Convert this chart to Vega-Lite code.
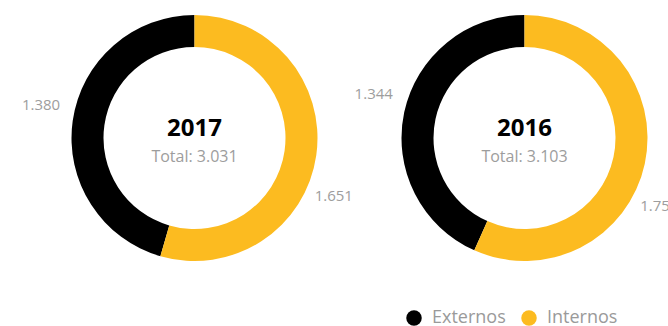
{
  "$schema": "https://vega.github.io/schema/vega-lite/v6.json",
  "autosize": {"type": "none"},
  "width": 668,
  "height": 276,
  "padding": {"left": 0, "top": 0, "right": 0, "bottom": 50},
  "config": {
    "view": {"stroke": null},
    "font": "Open Sans",
    "locale": {"number": {"decimal": ",", "thousands": ".", "grouping": [3], "currency": ["", " €"]}}
  },
  "data": {
    "values": [
      {"year": "2017", "cat": "Externos", "value": 1380},
      {"year": "2017", "cat": "Internos", "value": 1651},
      {"year": "2016", "cat": "Externos", "value": 1344},
      {"year": "2016", "cat": "Internos", "value": 1759}
    ]
  },
  "resolve": {"scale": {"theta": "independent"}},
  "layer": [
    {
      "transform": [{"filter": "datum.year == '2017'"}],
      "mark": {"type": "arc", "outerRadius": 123, "innerRadius": 91},
      "encoding": {
        "x": {"field": "year", "type": "nominal", "scale": {"type": "point", "domain": ["2017", "2016"], "padding": 0.512121, "align": 0.57544}, "axis": null},
        "theta": {"field": "value", "type": "quantitative", "stack": "normalize"},
        "color": {"field": "cat", "type": "nominal", "scale": {"domain": ["Externos", "Internos"], "range": ["#000000", "#FCBB20"]},
          "legend": {"title": null, "orient": "none", "legendX": 405, "legendY": 309, "direction": "horizontal", "symbolType": "circle", "symbolSize": 240, "symbolStrokeWidth": 0, "labelFontSize": 18, "labelColor": "#9a9a9a", "labelFont": "Open Sans", "labelOffset": 9, "columnPadding": 14}},
        "order": {"field": "cat", "sort": "descending"}
      }
    },
    {
      "transform": [{"filter": "datum.year == '2016'"}],
      "mark": {"type": "arc", "outerRadius": 123, "innerRadius": 91},
      "encoding": {
        "x": {"field": "year", "type": "nominal", "scale": {"type": "point", "domain": ["2017", "2016"], "padding": 0.512121, "align": 0.57544}, "axis": null},
        "theta": {"field": "value", "type": "quantitative", "stack": "normalize"},
        "color": {"field": "cat", "type": "nominal"},
        "order": {"field": "cat", "sort": "descending"}
      }
    },
    {
      "transform": [{"filter": "datum.year == '2017'"}],
      "mark": {"type": "text", "radius": 157, "fontSize": 15, "color": "#9d9d9d", "align": "center", "baseline": "middle"},
      "encoding": {
        "x": {"field": "year", "type": "nominal", "scale": {"type": "point", "domain": ["2017", "2016"], "padding": 0.512121, "align": 0.57544}, "axis": null},
        "theta": {"field": "value", "type": "quantitative", "stack": "normalize", "scale": {"range": [0.073, 6.356]}},
        "detail": {"field": "cat", "type": "nominal"},
        "order": {"field": "cat", "sort": "descending"},
        "text": {"condition": {"test": "datum.cat == 'Externos'", "field": "value", "type": "quantitative", "format": ",d"}, "value": ""}
      }
    },
    {
      "transform": [{"filter": "datum.year == '2017'"}],
      "mark": {"type": "text", "radius": 151, "fontSize": 15, "color": "#9d9d9d", "align": "center", "baseline": "middle"},
      "encoding": {
        "x": {"field": "year", "type": "nominal", "scale": {"type": "point", "domain": ["2017", "2016"], "padding": 0.512121, "align": 0.57544}, "axis": null},
        "theta": {"field": "value", "type": "quantitative", "stack": "normalize", "scale": {"range": [0.256, 6.539]}},
        "detail": {"field": "cat", "type": "nominal"},
        "order": {"field": "cat", "sort": "descending"},
        "text": {"condition": {"test": "datum.cat == 'Internos'", "field": "value", "type": "quantitative", "format": ",d"}, "value": ""}
      }
    },
    {
      "transform": [{"filter": "datum.year == '2016'"}],
      "mark": {"type": "text", "radius": 157, "fontSize": 15, "color": "#9d9d9d", "align": "center", "baseline": "middle"},
      "encoding": {
        "x": {"field": "year", "type": "nominal", "scale": {"type": "point", "domain": ["2017", "2016"], "padding": 0.512121, "align": 0.57544}, "axis": null},
        "theta": {"field": "value", "type": "quantitative", "stack": "normalize", "scale": {"range": [0.073, 6.356]}},
        "detail": {"field": "cat", "type": "nominal"},
        "order": {"field": "cat", "sort": "descending"},
        "text": {"condition": {"test": "datum.cat == 'Externos'", "field": "value", "type": "quantitative", "format": ",d"}, "value": ""}
      }
    },
    {
      "transform": [{"filter": "datum.year == '2016'"}],
      "mark": {"type": "text", "radius": 151, "fontSize": 15, "color": "#9d9d9d", "align": "center", "baseline": "middle"},
      "encoding": {
        "x": {"field": "year", "type": "nominal", "scale": {"type": "point", "domain": ["2017", "2016"], "padding": 0.512121, "align": 0.57544}, "axis": null},
        "theta": {"field": "value", "type": "quantitative", "stack": "normalize", "scale": {"range": [0.256, 6.539]}},
        "detail": {"field": "cat", "type": "nominal"},
        "order": {"field": "cat", "sort": "descending"},
        "text": {"condition": {"test": "datum.cat == 'Internos'", "field": "value", "type": "quantitative", "format": ",d"}, "value": ""}
      }
    },
    {
      "transform": [{"aggregate": [{"op": "sum", "field": "value", "as": "total"}], "groupby": ["year"]}],
      "mark": {"type": "text", "fontSize": 24, "fontWeight": "bold", "color": "#000000", "align": "center", "baseline": "alphabetic", "dy": -2},
      "encoding": {
        "x": {"field": "year", "type": "nominal", "scale": {"type": "point", "domain": ["2017", "2016"], "padding": 0.512121, "align": 0.57544}, "axis": null},
        "text": {"field": "year", "type": "nominal"}
      }
    },
    {
      "transform": [
        {"aggregate": [{"op": "sum", "field": "value", "as": "total"}], "groupby": ["year"]},
        {"calculate": "'Total: ' + format(datum.total, ',d')", "as": "label"}
      ],
      "mark": {"type": "text", "fontSize": 16, "color": "#9d9d9d", "align": "center", "baseline": "alphabetic", "dy": 24},
      "encoding": {
        "x": {"field": "year", "type": "nominal", "scale": {"type": "point", "domain": ["2017", "2016"], "padding": 0.512121, "align": 0.57544}, "axis": null},
        "text": {"field": "label", "type": "nominal"}
      }
    }
  ]
}
